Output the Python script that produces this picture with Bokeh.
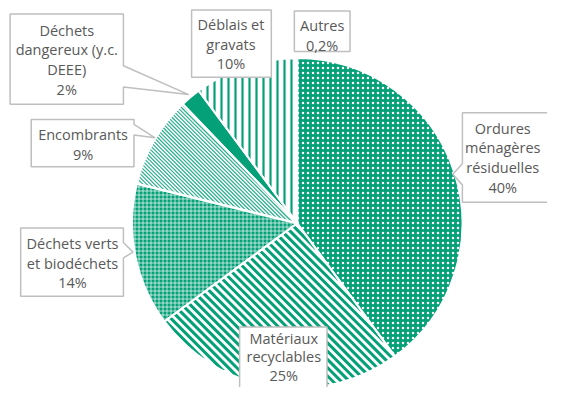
import math
from bokeh.plotting import figure
from bokeh.models import Range1d
from bokeh.embed import file_html
from bokeh.resources import INLINE
from bokeh.core.properties import value

# ---------------- data ----------------
categories = ["Ordures ménagères résiduelles", "Matériaux recyclables",
              "Déchets verts et biodéchets", "Encombrants",
              "Déchets dangereux (y.c. DEEE)", "Déblais et gravats", "Autres"]
values = [40, 25, 14, 9, 2, 10, 0.2]
pct_labels = ["40%", "25%", "14%", "9%", "2%", "10%", "0,2%"]
name_lines = [["Ordures", "ménagères", "résiduelles"],
              ["Matériaux", "recyclables"],
              ["Déchets verts", "et biodéchets"],
              ["Encombrants"],
              ["Déchets", "dangereux (y.c.", "DEEE)"],
              ["Déblais et", "gravats"],
              ["Autres"]]

# ---------------- styles ----------------
GREEN = "#04A077"
styles = [
    dict(fill_color=GREEN, hatch_pattern="dot", hatch_color="white", hatch_scale=5, hatch_weight=1.6),
    dict(fill_color="white"),
    dict(fill_color=GREEN, hatch_pattern="cross", hatch_color="white", hatch_scale=4, hatch_weight=0.8,
         hatch_alpha=0.85),
    dict(fill_color="white"),
    dict(fill_color=GREEN),
    dict(fill_color="white", hatch_pattern="vertical_line", hatch_color=GREEN, hatch_scale=7, hatch_weight=2.2),
    dict(fill_color=GREEN),
]
# 45-degree "\" stripes drawn as clipped segments: (horizontal period, width px, alpha)
stripe_styles = {1: (8.6, 3.0, 1.0), 3: (4.0, 1.2, 0.85)}

# label layout in reference units: box (x0, y0, x1, y1), text center x, first line y, callout
layout = [
    dict(box=(481, 117, 600, 210), tx=523, ty=133, call=("left", 170, 192, (471, 181))),
    dict(box=(249, 340, 340, 430), tx=295, ty=352, call=None),
    dict(box=(21, 237, 128, 308), tx=75, ty=253, call=("right", 252, 268, (138, 262))),
    dict(box=(32, 124, 139, 173), tx=86, ty=140, call=("right", 129, 140, (161, 143))),
    dict(box=(10, 14, 128, 108), tx=69, ty=31, call=("right", 68, 90, (196, 98))),
    dict(box=(199, 10, 282, 80), tx=240, ty=25, call=None),
    dict(box=(306, 11, 364, 53), tx=335, ty=26, call=None),
]
LINE_H = 20.5
H = 403.0          # reference height in data units
W_PX, H_PX = 547, 387
UPP = H / H_PX     # data units per screen pixel (same on both axes)

def fy(py):
    return H - py

p = figure(width=W_PX, height=H_PX, x_range=Range1d(0, W_PX * UPP), y_range=Range1d(0, H),
           output_backend="svg", toolbar_location=None, min_border=0,
           x_axis_type=None, y_axis_type=None)
p.grid.visible = False
p.outline_line_color = None
p.background_fill_color = "white"
p.border_fill_color = "white"

cx, cy, R = 309, fy(232), 172


def sector_stripes(a0, a1, period):
    """Segments of lines Y = -X + c clipped to the clockwise sector a0 -> a1."""
    s2 = math.sqrt(2)
    d = (1 / s2, -1 / s2)
    u0 = (math.cos(a0), math.sin(a0))
    u1 = (math.cos(a1), math.sin(a1))
    xs0, ys0, xs1, ys1 = [], [], [], []
    cmin = cx + cy - R * s2 - period
    cmax = cx + cy + R * s2 + period
    n0 = math.floor(cmin / period)
    n1 = math.ceil(cmax / period)
    for n in range(n0, n1 + 1):
        c = n * period
        px, py = 0.0 - cx, c - cy  # P0 - C with P0 = (0, c)
        b = px * d[0] + py * d[1]
        cc = px * px + py * py - R * R
        disc = b * b - cc
        if disc <= 0:
            continue
        lo, hi = -b - math.sqrt(disc), -b + math.sqrt(disc)
        ok = True
        # cross(u0, v) <= 0 ; cross(u1, v) >= 0
        for u, sign in ((u0, -1), (u1, 1)):
            k0 = u[0] * py - u[1] * px
            k1 = u[0] * d[1] - u[1] * d[0]
            a, bb = sign * k0, sign * k1
            if abs(bb) < 1e-12:
                if a < 0:
                    ok = False
                continue
            t = -a / bb
            if bb > 0:
                lo = max(lo, t)
            else:
                hi = min(hi, t)
        if not ok or hi <= lo:
            continue
        xs0.append(cx + px + lo * d[0]); ys0.append(cy + py + lo * d[1])
        xs1.append(cx + px + hi * d[0]); ys1.append(cy + py + hi * d[1])
    return xs0, ys0, xs1, ys1


total = sum(values)
angles = []
cum = 0.0
for v in values:
    a0 = math.pi / 2 - 2 * math.pi * cum / total
    cum += v
    a1 = math.pi / 2 - 2 * math.pi * cum / total
    angles.append((a0, a1))

for i, ((a0, a1), st) in enumerate(zip(angles, styles)):
    p.wedge(x=cx, y=cy, radius=R, start_angle=a0, end_angle=a1, direction="clock",
            line_color=None, **st)
    if i in stripe_styles:
        period, w, alpha = stripe_styles[i]
        x0s, y0s, x1s, y1s = sector_stripes(a0, a1, period)
        p.segment(x0=x0s, y0=y0s, x1=x1s, y1=y1s, line_color=GREEN, line_width=w,
                  line_alpha=alpha, line_cap="butt")

# clean outer rim and white separators
p.annulus(x=cx, y=cy, inner_radius=R, outer_radius=R + 6, fill_color="white", line_color=None)
for a0, a1 in angles:
    p.wedge(x=cx, y=cy, radius=R, start_angle=a0, end_angle=a1, direction="clock",
            fill_color=None, line_color="white", line_width=2)

# labels with wedge callouts
for i_lab, (lines, pct, lay) in enumerate(zip(name_lines, pct_labels, layout)):
    x0, y0, x1, y1 = lay["box"]
    if lay["call"] is None:
        pts = [(x0, y0), (x1, y0), (x1, y1), (x0, y1)]
    else:
        side, b1, b2, tip = lay["call"]
        if side == "right":
            pts = [(x0, y0), (x1, y0), (x1, b1), tip, (x1, b2), (x1, y1), (x0, y1)]
        else:
            pts = [(x0, y0), (x1, y0), (x1, y1), (x0, y1), (x0, b2), tip, (x0, b1)]
    p.patch(x=[q[0] for q in pts], y=[fy(q[1]) for q in pts], fill_color="white",
            line_color="#BFBFBF", line_width=1.5)
    txt = lines + [pct]
    lh = 19 if i_lab == 1 else LINE_H
    p.text(x=[lay["tx"]] * len(txt), y=[fy(lay["ty"] + i * lh) for i in range(len(txt))],
           text=txt, text_font=value("Open Sans"), text_font_size="14.5px",
           text_color="#595959", text_align="center", text_baseline="middle")

open("out.html", "w").write(file_html(p, INLINE))
